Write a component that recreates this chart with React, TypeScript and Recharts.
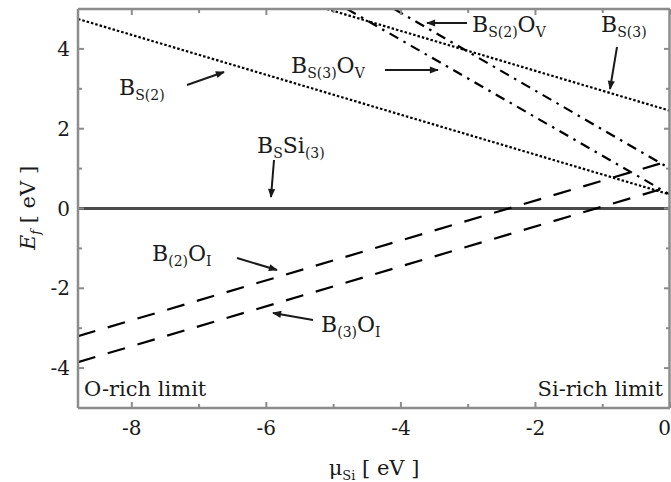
import React from "react";
import { LineChart, Line, XAxis, YAxis } from "recharts";

// chemical potential of Si (x) and formation energy (y), eV
const muTicks = [-8, -7, -6, -5, -4, -3, -2, -1, 0];
const efTicks = [-4, -3, -2, -1, 0, 1, 2, 3, 4];

const bS2 = [{ mu: -8.8, ef: 4.75 }, { mu: 0, ef: 0.35 }];
const bS3 = [{ mu: -5.1, ef: 5.0 }, { mu: 0, ef: 2.45 }];
const bS2Ov = [{ mu: -4.1, ef: 5.0 }, { mu: 0, ef: 1.0 }];
const bS3Ov = [{ mu: -4.8, ef: 5.0 }, { mu: 0, ef: 0.35 }];
const bSSi3 = [{ mu: -8.8, ef: 0 }, { mu: 0, ef: 0 }];
const b2Oi = [{ mu: -8.8, ef: -3.2 }, { mu: 0, ef: 1.2 }];
const b3Oi = [{ mu: -8.8, ef: -3.85 }, { mu: 0, ef: 0.55 }];

const W = 671;
const H = 482;
const SERIF = "'DejaVu Serif', 'Liberation Serif', serif";
const FRAME = "#8c8c8c";
const INK = "#1a1a1a";
const TM = 4;

const isMajor = (v: number) => v % 2 === 0;

function BottomTick(props: any) {
  const { x, y, payload } = props;
  const v = payload.value;
  const axisY = y - TM;
  return (
    <g>
      <line x1={x} x2={x} y1={axisY} y2={axisY - (isMajor(v) ? 6 : 4)} stroke={FRAME} strokeWidth={2} />
      {isMajor(v) && (
        <text x={v === 0 ? x + 1 : x} y={axisY + 27} textAnchor={v === 0 ? "end" : "middle"} fontFamily={SERIF} fontSize={20} fill={INK}>
          {v}
        </text>
      )}
    </g>
  );
}

function TopTick(props: any) {
  const { x, y, payload } = props;
  const axisY = y + TM;
  return <line x1={x} x2={x} y1={axisY} y2={axisY + (isMajor(payload.value) ? 6 : 4)} stroke={FRAME} strokeWidth={2} />;
}

function LeftTick(props: any) {
  const { x, y, payload } = props;
  const v = payload.value;
  const axisX = x + TM;
  return (
    <g>
      <line x1={axisX} x2={axisX + (isMajor(v) ? 6 : 4)} y1={y} y2={y} stroke={FRAME} strokeWidth={2} />
      {isMajor(v) && (
        <text x={axisX - 8} y={y + 7} textAnchor="end" fontFamily={SERIF} fontSize={20} fill={INK}>
          {v}
        </text>
      )}
    </g>
  );
}

function RightTick(props: any) {
  const { x, y, payload } = props;
  const axisX = x - TM;
  return <line x1={axisX} x2={axisX - (isMajor(payload.value) ? 6 : 4)} y1={y} y2={y} stroke={FRAME} strokeWidth={2} />;
}

function Label({ x, y, main, sub, main2, sub2 }: any) {
  return (
    <text x={x} y={y} fontFamily={SERIF} fontSize={22} fill={INK}>
      {main}
      <tspan fontSize={14} dy={5}>{sub}</tspan>
      {main2 && <tspan fontSize={22} dy={-5}>{main2}</tspan>}
      {sub2 && <tspan fontSize={14} dy={5}>{sub2}</tspan>}
    </text>
  );
}

function Arrow({ x1, y1, x2, y2 }: any) {
  return <line x1={x1} y1={y1} x2={x2} y2={y2} stroke={INK} strokeWidth={2} markerEnd="url(#ah)" />;
}

function Notes() {
  return (
    <svg width={W} height={H} style={{ position: "absolute", left: 0, top: 0, pointerEvents: "none" }}>
      <defs>
        <marker id="ah" viewBox="0 0 10 10" refX="9" refY="5" markerWidth="11" markerHeight="9" markerUnits="userSpaceOnUse" orient="auto">
          <path d="M0,1 L10,5 L0,9 z" fill={INK} />
        </marker>
      </defs>
      {/* plot frame (top and right edges) */}
      <line x1={78} y1={9} x2={670} y2={9} stroke={FRAME} strokeWidth={2.5} />
      <line x1={669.5} y1={9} x2={669.5} y2={408} stroke={FRAME} strokeWidth={2.5} />
      <Label x={119} y={95} main="B" sub="S(2)" />
      <Arrow x1={187} y1={85} x2={224} y2={72} />
      <Label x={291} y={73} main="B" sub="S(3)" main2="O" sub2="V" />
      <Arrow x1={385} y1={70} x2={438} y2={70} />
      <Label x={472} y={32} main="B" sub="S(2)" main2="O" sub2="V" />
      <Arrow x1={467} y1={23} x2={427} y2={23} />
      <Label x={601} y={32} main="B" sub="S(3)" />
      <Arrow x1={617} y1={47} x2={610} y2={89} />
      <Label x={257} y={153} main="B" sub="S" main2="Si" sub2="(3)" />
      <Arrow x1={274} y1={160} x2={271} y2={197} />
      <Label x={152} y={261} main="B" sub="(2)" main2="O" sub2="I" />
      <Arrow x1={237} y1={258} x2={277} y2={270} />
      <Label x={321} y={332} main="B" sub="(3)" main2="O" sub2="I" />
      <Arrow x1={313} y1={320} x2={273} y2={313} />
      <text x={84} y={396} fontFamily={SERIF} fontSize={21} fill={INK}>O-rich limit</text>
      <text x={663} y={396} textAnchor="end" fontFamily={SERIF} fontSize={21} fill={INK}>Si-rich limit</text>
      <text x={374} y={475} textAnchor="middle" fontFamily={SERIF} fontSize={21} fill={INK}>
        μ<tspan fontSize={13} dy={5}>Si</tspan>
        <tspan dy={-5}> [ eV ]</tspan>
      </text>
      <text x={0} y={0} transform="translate(35 208) rotate(-90)" textAnchor="middle" fontFamily={SERIF} fontSize={21} fill={INK}>
        <tspan fontStyle="italic">E</tspan>
        <tspan fontStyle="italic" fontSize={13} dy={5}>f</tspan>
        <tspan dy={-5}> [ eV ]</tspan>
      </text>
    </svg>
  );
}

export default function App() {
  const common = { xAxisId: "b", yAxisId: "l", dataKey: "ef", dot: false, activeDot: false, isAnimationActive: false, stroke: "#000", strokeWidth: 2.2 } as const;
  return (
    <div style={{ position: "absolute", left: 0, top: 0, width: W, height: H, background: "#fff" }}>
      <LineChart width={W} height={H} margin={{ top: 8, right: 0, bottom: 0, left: 0 }}>
        <XAxis xAxisId="b" type="number" dataKey="mu" domain={[-8.8, 0]} ticks={muTicks} interval={0} allowDataOverflow
          height={74} tickSize={0} tickMargin={TM} tickLine={false} tick={<BottomTick />} axisLine={{ stroke: FRAME, strokeWidth: 2.5 }} />
        <XAxis xAxisId="t" orientation="top" type="number" dataKey="mu" domain={[-8.8, 0]} ticks={muTicks} interval={0} allowDataOverflow
          height={1} tickSize={0} tickMargin={TM} tickLine={false} tick={<TopTick />} axisLine={false} />
        <YAxis yAxisId="l" type="number" domain={[-5, 5]} ticks={efTicks} interval={0} allowDataOverflow
          width={78} tickSize={0} tickMargin={TM} tickLine={false} tick={<LeftTick />} axisLine={{ stroke: FRAME, strokeWidth: 2.5 }} />
        <YAxis yAxisId="r" orientation="right" type="number" domain={[-5, 5]} ticks={efTicks} interval={0} allowDataOverflow
          width={1} tickSize={0} tickMargin={TM} tickLine={false} tick={<RightTick />} axisLine={false} />

        <Line {...common} data={bSSi3} name="BS Si(3)" stroke="#4a4a4a" strokeWidth={3} />
        <Line {...common} data={bS2} name="BS(2)" strokeDasharray="2.5 2" />
        <Line {...common} data={bS3} name="BS(3)" strokeDasharray="2.5 2" />
        <Line {...common} data={bS2Ov} name="BS(2)OV" strokeDasharray="10 6 2.5 6" />
        <Line {...common} data={bS3Ov} name="BS(3)OV" strokeDasharray="10 6 2.5 6" />
        <Line {...common} data={b2Oi} name="B(2)OI" strokeDasharray="18 13" />
        <Line {...common} data={b3Oi} name="B(3)OI" strokeDasharray="18 13" />
      </LineChart>
      <Notes />
    </div>
  );
}
